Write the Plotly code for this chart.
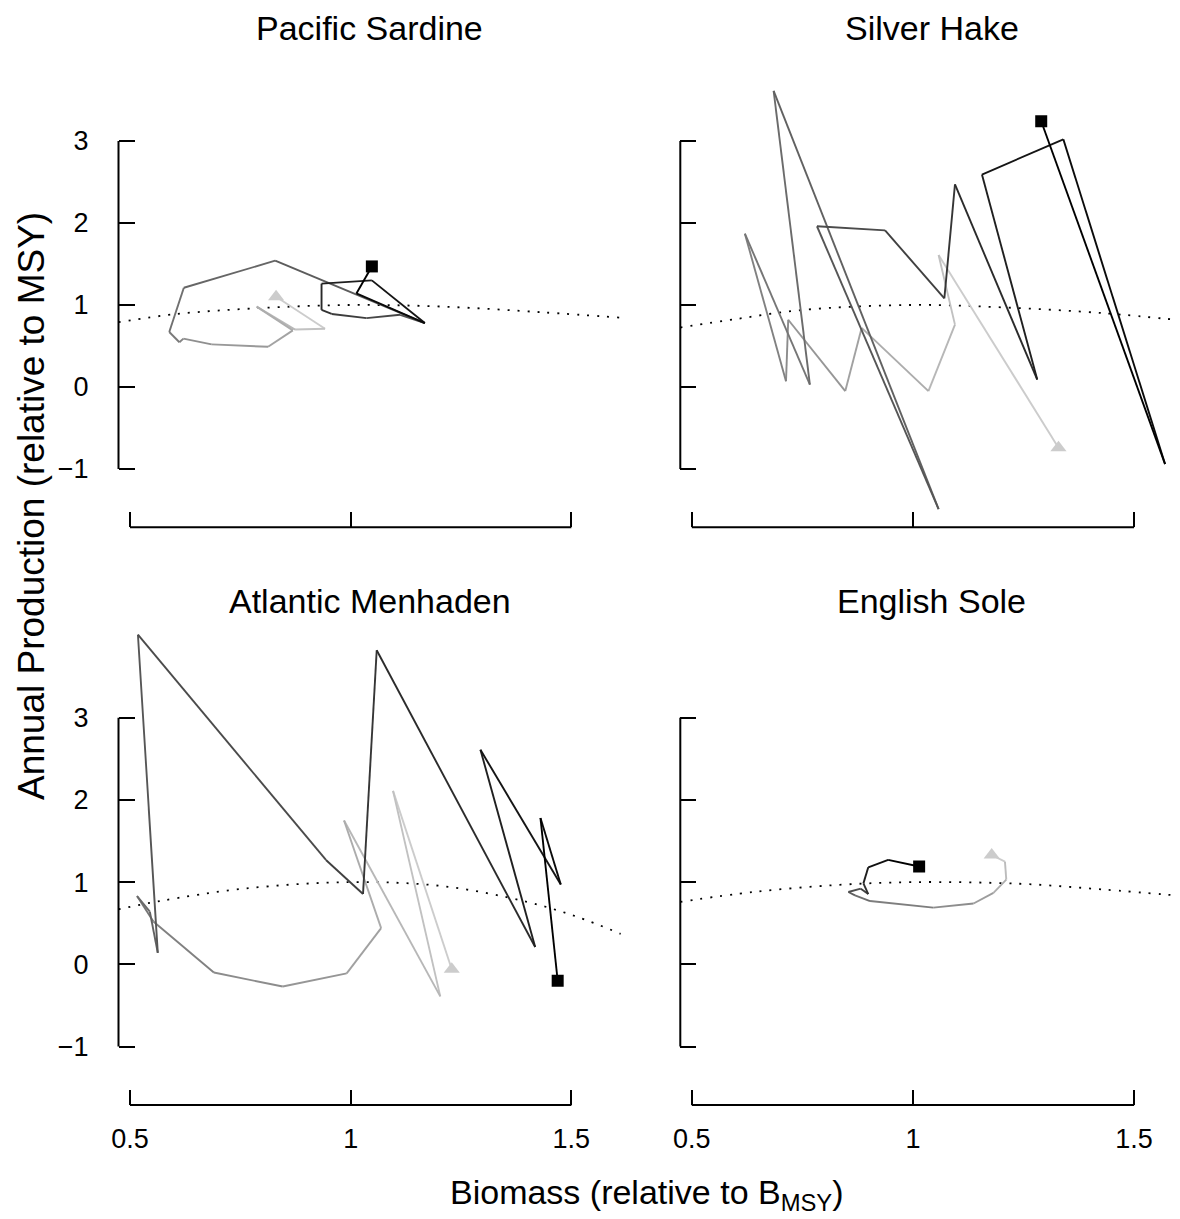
import plotly.graph_objects as go

# the page body has an 8px margin, so the figure is drawn 8px in and 8px down
OFF = 8
W, H = 1180 - OFF, 1219 - OFF

# ---------------- data ----------------
titles = ["Pacific Sardine", "Silver Hake", "Atlantic Menhaden", "English Sole"]

# Pacific Sardine trajectory (biomass / Bmsy, production / MSY), first -> last
sardine_b = [0.831, 0.942, 0.874, 0.787, 0.869, 0.813, 0.685, 0.621, 0.612, 0.589,
             0.622, 0.829, 1.168, 1.112, 1.036, 0.957, 0.934, 0.934, 1.048, 1.168,
             1.013, 1.048]
sardine_p = [1.10, 0.71, 0.70, 0.98, 0.69, 0.49, 0.52, 0.59, 0.545, 0.67,
             1.21, 1.54, 0.78, 0.88, 0.84, 0.89, 0.94, 1.26, 1.30, 0.78,
             1.14, 1.47]

# Silver Hake
hake_b = [1.329, 1.058, 1.095, 1.035, 0.884, 0.847, 0.718, 0.713, 0.620, 0.767,
          0.685, 1.058, 0.783, 0.937, 1.071, 1.095, 1.281, 1.156, 1.340, 1.570,
          1.290]
hake_p = [-0.74, 1.61, 0.76, -0.05, 0.72, -0.05, 0.82, 0.07, 1.87, 0.03,
          3.61, -1.49, 1.96, 1.91, 1.08, 2.47, 0.09, 2.59, 3.02, -0.94,
          3.24]

# Atlantic Menhaden
menhaden_b = [1.229, 1.096, 1.203, 0.985, 1.069, 0.991, 0.846, 0.690, 0.553, 0.516,
              0.545, 0.563, 0.518, 0.944, 1.028, 1.059, 1.418, 1.294, 1.476, 1.430,
              1.469]
menhaden_p = [-0.06, 2.11, -0.39, 1.75, 0.44, -0.11, -0.27, -0.10, 0.52, 0.83,
              0.64, 0.14, 4.01, 1.27, 0.855, 3.82, 0.21, 2.61, 0.97, 1.78,
              -0.20]

# English Sole
sole_b = [1.178, 1.208, 1.211, 1.182, 1.137, 1.046, 0.903, 0.869, 0.854, 0.882,
          0.899, 0.888, 0.899, 0.944, 1.014]
sole_p = [1.33, 1.25, 1.03, 0.87, 0.74, 0.69, 0.77, 0.84, 0.88, 0.92,
          0.855, 0.985, 1.18, 1.27, 1.19]

# production curves (dotted), read at a few biomass values
sardine_curve_b = [0.474, 0.606, 0.787, 1.0, 1.209, 1.436, 1.612]
sardine_curve_p = [0.79, 0.89, 0.96, 1.0, 0.98, 0.91, 0.845]
hake_curve_b = [0.474, 0.602, 0.752, 1.0, 1.205, 1.431, 1.612]
hake_curve_p = [0.725, 0.83, 0.94, 1.0, 0.97, 0.90, 0.81]
menhaden_curve_b = [0.474, 0.568, 0.757, 1.0, 1.210, 1.399, 1.512, 1.612]
menhaden_curve_p = [0.67, 0.77, 0.92, 1.0, 0.95, 0.76, 0.58, 0.37]
sole_curve_b = [0.474, 0.639, 0.828, 1.0, 1.242, 1.431, 1.612]
sole_curve_p = [0.76, 0.88, 0.965, 1.0, 0.98, 0.91, 0.83]

x_tickvals = [0.5, 1, 1.5]
x_ticktext = ["0.5", "1", "1.5"]
y_tickvals = [-1, 0, 1, 2, 3]
y_ticktext = ["\u22121", "0", "1", "2", "3"]

panels = [
    (sardine_b, sardine_p, sardine_curve_b, sardine_curve_p),
    (hake_b, hake_p, hake_curve_b, hake_curve_p),
    (menhaden_b, menhaden_p, menhaden_curve_b, menhaden_curve_p),
    (sole_b, sole_p, sole_curve_b, sole_curve_p),
]

# ---------------- layout geometry (page pixels) ----------------
FONT = "Liberation Sans, Arial, Helvetica, sans-serif"
left_px = (118.5, 620.8)
right_px = (680.3, 1180.0)
top_py = (40.1, 527.2)
bot_py = (616.6, 1104.9)
xr_left = [0.474, 1.612]
xr_right = [0.474, 0.474 + (right_px[1] - right_px[0]) / 442.3]
yr = [-1.71, 4.23]


def fx(px):
    return (px - OFF) / W


def fy(py):
    return 1 - (py - OFF) / H


def xdom(p):
    return [fx(p[0]), min(1.0, fx(p[1]))]


def ydom(p):
    return [fy(p[1]), fy(p[0])]


geo = [
    (left_px, top_py, xr_left, True, False),
    (right_px, top_py, xr_right, False, False),
    (left_px, bot_py, xr_left, True, True),
    (right_px, bot_py, xr_right, False, True),
]


def gray_hex(level):
    v = int(round(255 * level))
    return "#%02x%02x%02x" % (v, v, v)


fig = go.Figure()
shapes = []
annotations = []

for k, ((b, p, cb, cp), (xp, yp, xr, show_y, show_x)) in enumerate(zip(panels, geo)):
    n = k + 1
    xa = "x" if n == 1 else "x%d" % n
    ya = "y" if n == 1 else "y%d" % n
    xkey = "xaxis" if n == 1 else "xaxis%d" % n
    ykey = "yaxis" if n == 1 else "yaxis%d" % n

    # dotted production curve
    fig.add_trace(go.Scatter(x=cb, y=cp, mode="lines",
                             line=dict(color="black", width=1.8, dash="2px,8px", shape="spline"),
                             xaxis=xa, yaxis=ya, showlegend=False, hoverinfo="skip"))
    m = len(b) - 1
    for i in range(m):
        lvl = 0.8 * (1 - i / (m - 1))
        fig.add_trace(go.Scatter(x=[b[i], b[i + 1]], y=[p[i], p[i + 1]], mode="lines",
                                 line=dict(color=gray_hex(lvl), width=1.9),
                                 xaxis=xa, yaxis=ya, showlegend=False, hoverinfo="skip"))
    # start (triangle) and end (square)
    fig.add_trace(go.Scatter(x=[b[0]], y=[p[0]], mode="markers",
                             marker=dict(symbol="triangle-up", size=14, color=gray_hex(0.8)),
                             xaxis=xa, yaxis=ya, showlegend=False, hoverinfo="skip"))
    fig.add_trace(go.Scatter(x=[b[-1]], y=[p[-1]], mode="markers",
                             marker=dict(symbol="square", size=12, color="black"),
                             xaxis=xa, yaxis=ya, showlegend=False, hoverinfo="skip"))

    fig.update_layout(**{
        xkey: dict(domain=xdom(xp), range=xr, anchor=ya, showgrid=False, zeroline=False,
                   showline=False, ticks="inside", ticklen=15, tickwidth=2, tickcolor="black",
                   tickvals=x_tickvals, ticktext=x_ticktext, showticklabels=show_x,
                   ticklabelstandoff=15, automargin=False,
                   tickfont=dict(family=FONT, size=27, color="black")),
        ykey: dict(domain=ydom(yp), range=yr, anchor=xa, showgrid=False, zeroline=False,
                   showline=False, ticks="inside", ticklen=16, tickwidth=2, tickcolor="black",
                   tickvals=y_tickvals, ticktext=y_ticktext, showticklabels=show_y,
                   ticklabelstandoff=29, automargin=False,
                   tickfont=dict(family=FONT, size=27, color="black")),
    })
    # detached R-style axis lines
    shapes.append(dict(type="line", xref=xa + " domain", yref=ya, x0=0, x1=0,
                       y0=y_tickvals[0], y1=y_tickvals[-1],
                       line=dict(color="black", width=2)))
    shapes.append(dict(type="line", xref=xa, yref=ya + " domain", x0=x_tickvals[0],
                       x1=x_tickvals[-1], y0=0, y1=0,
                       line=dict(color="black", width=2)))
    # panel title, centred over the full plotting region
    full_w = (xr_left[1] - xr_left[0]) * 441.5
    cx = xp[0] + full_w / 2
    title_y = 28 if n <= 2 else 601
    annotations.append(dict(text=titles[k], x=fx(cx), y=fy(title_y), xref="paper",
                            yref="paper", showarrow=False, xanchor="center", yanchor="middle",
                            font=dict(family=FONT, size=34, color="black")))

annotations.append(dict(text="Annual Production (relative to MSY)", x=fx(31), y=fy(506),
                        xref="paper", yref="paper", showarrow=False, textangle=-90,
                        xanchor="center", yanchor="middle",
                        font=dict(family=FONT, size=37, color="black")))
annotations.append(dict(text="Biomass (relative to B<sub>MSY</sub>)", x=fx(647), y=fy(1194),
                        xref="paper", yref="paper", showarrow=False,
                        xanchor="center", yanchor="middle",
                        font=dict(family=FONT, size=34, color="black")))

fig.update_layout(width=W, height=H, margin=dict(l=0, r=0, t=0, b=0, autoexpand=False),
                  plot_bgcolor="white", paper_bgcolor="white",
                  shapes=shapes, annotations=annotations, showlegend=False)

fig.write_html("out.html")
